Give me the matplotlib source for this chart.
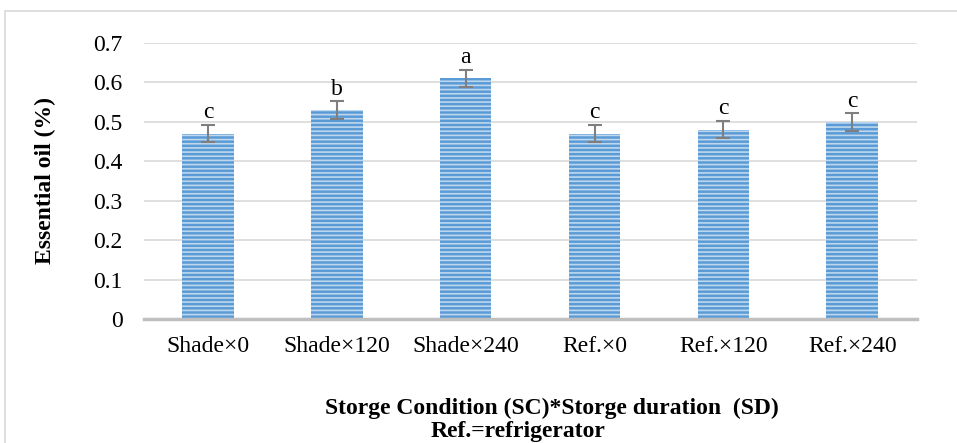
import numpy as np
import matplotlib.pyplot as plt
from matplotlib.patches import Rectangle

# данные с графика
categories = ['Shade×0', 'Shade×120', 'Shade×240', 'Ref.×0', 'Ref.×120', 'Ref.×240']
oil = [0.47, 0.53, 0.61, 0.47, 0.48, 0.50]
err = [0.022, 0.022, 0.022, 0.022, 0.022, 0.022]
letters = ['c', 'b', 'a', 'c', 'c', 'c']
yticks = [0, 0.1, 0.2, 0.3, 0.4, 0.5, 0.6, 0.7]

plt.rcParams['font.family'] = ['Liberation Serif', 'DejaVu Serif']
plt.rcParams['hatch.linewidth'] = 1.2

fig = plt.figure(figsize=(9.57, 4.43), dpi=100)
ax = fig.add_axes([143.6 / 957, 1 - 319 / 443, (916.6 - 143.6) / 957, (319 - 43) / 443])

# рамка вокруг рисунка
fig.patches.append(Rectangle((5 / 957, -0.1), 1.2, 1 - 11 / 443 + 0.1, transform=fig.transFigure,
                             fill=False, edgecolor='#D9D9D9', linewidth=1.2))

x = np.arange(len(categories))
ax.bar(x, oil, width=0.4, color='#5B9BD5', edgecolor='#BDD7EE', linewidth=0, hatch='----', zorder=2)
ax.errorbar(x, oil, yerr=err, fmt='none', ecolor='#7F7F7F', elinewidth=1.5, capsize=5, capthick=1.5, zorder=3)
for xi, v, e, s in zip(x, oil, err, letters):
    ax.text(xi, v + e + 0.004, s, ha='center', va='bottom', fontsize=17)

ax.set_xlim(-0.5, len(categories) - 0.5)
ax.set_ylim(0, 0.7)
ax.set_yticks(yticks)
ax.set_yticklabels(['0' if t == 0 else f'{t:.1f}' for t in yticks])
ax.set_xticks(x)
ax.set_xticklabels(categories)
ax.tick_params(length=0, labelsize=17)
ax.tick_params(axis='y', pad=15)
ax.tick_params(axis='x', pad=12)
ax.grid(axis='y', color='#D9D9D9', linewidth=1.2, zorder=0)
for s in ['top', 'right', 'left']:
    ax.spines[s].set_visible(False)
ax.spines['bottom'].set_color('#BFBFBF')
ax.spines['bottom'].set_linewidth(2.5)
ax.spines['bottom'].set_zorder(4)

ax.set_ylabel('Essential oil (%)', fontsize=17, fontweight='bold')
ax.yaxis.set_label_coords((56 - 143.6) / 773, 0.5)
fig.text(552 / 957, 1 - 408 / 443, 'Storge Condition (SC)*Storge duration  (SD)',
         ha='center', va='center', fontsize=17, fontweight='bold')
fig.text(518 / 957, 1 - 431 / 443, 'Ref.=refrigerator',
         ha='center', va='center', fontsize=17, fontweight='bold')

fig.savefig('out.png', dpi=100)
